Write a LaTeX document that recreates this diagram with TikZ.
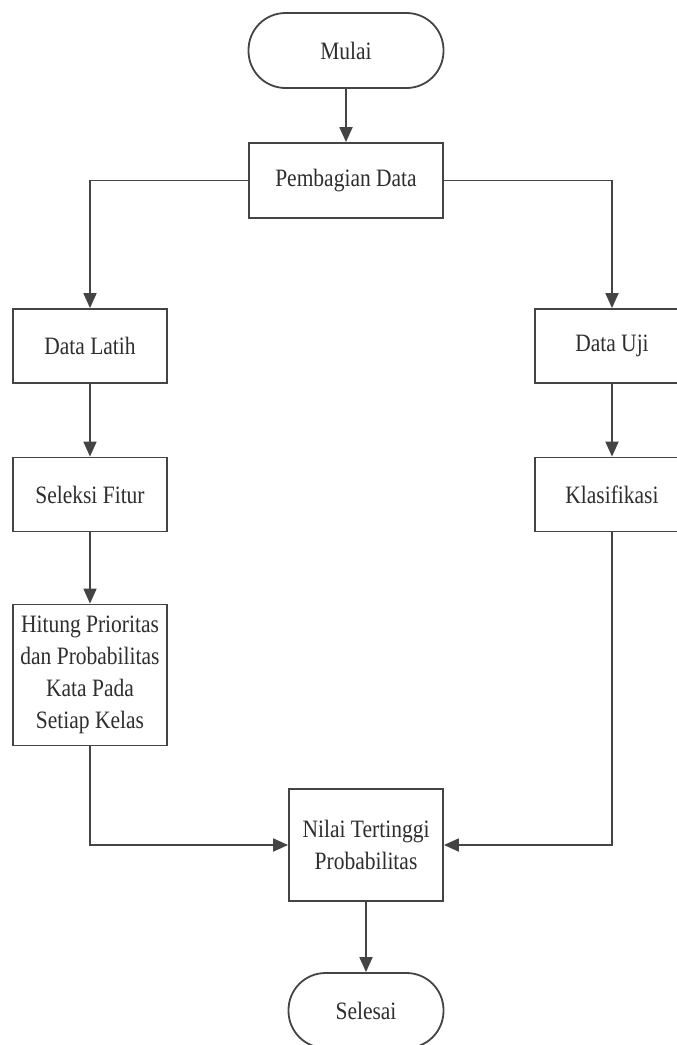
\documentclass[tikz,border=0pt]{standalone}
\usepackage{fontspec}
\setmainfont[FakeStretch=0.86]{Liberation Serif}
\usetikzlibrary{arrows.meta}
\definecolor{linec}{HTML}{444444}
\definecolor{textc}{HTML}{2E2E2E}
\begin{document}
\begin{tikzpicture}[x=1pt,y=-1pt,
  box/.style={draw=linec, line width=1.8pt, fill=white, minimum width=154pt, minimum height=74pt, inner sep=0pt, align=center, font=\fontsize{25}{32}\selectfont, text=textc},
  term/.style={box, rounded corners=37pt, minimum width=195pt, minimum height=75pt},
  flow/.style={draw=linec, line width=1.8pt, -{Triangle[length=15pt,width=13pt]}},
  link/.style={draw=linec, line width=1.8pt}]
\useasboundingbox (0,0) rectangle (677,1045);
\node[term] (mulai) at (346,50.5) {Mulai};
\node[box, minimum width=194pt, minimum height=75pt] (bagi) at (346,180.5) {Pembagian Data};
\node[box] (latih) at (90,346) {Data Latih};
\node[box] (uji) at (612,346) {Data Uji};
\node[box] (seleksi) at (90,494.5) {Seleksi Fitur};
\node[box] (klas) at (612,494.5) {Klasifikasi};
\node[box, minimum height=141pt] (hitung) at (90,675) {Hitung Prioritas\\dan Probabilitas\\Kata Pada\\Setiap Kelas};
\node[box, minimum height=112pt] (nilai) at (366,845) {Nilai Tertinggi\\Probabilitas};
\node[term, minimum width=155pt] (selesai) at (366,1010.5) {Selesai};
\draw[flow] (mulai) -- (bagi);
\draw[flow] (bagi.west) -| (latih.north);
\draw[flow] (bagi.east) -| (uji.north);
\draw[flow] (latih) -- (seleksi);
\draw[flow] (uji) -- (klas);
\draw[flow] (seleksi) -- (hitung);
\draw[flow] (hitung.south) |- (nilai.west);
\draw[flow] (klas.south) |- (nilai.east);
\draw[flow] (nilai) -- (selesai);
\end{tikzpicture}
\end{document}
